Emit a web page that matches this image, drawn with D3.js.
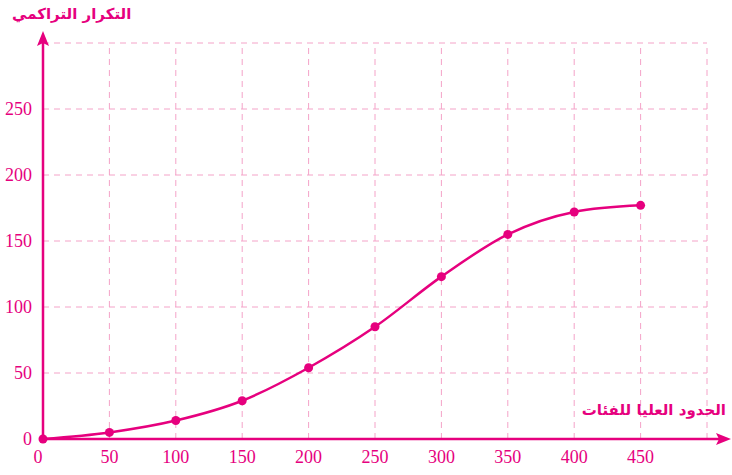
<!DOCTYPE html>
<html><head><meta charset="utf-8">
<script src="https://cdn.jsdelivr.net/npm/d3@7"></script>
<style>body{margin:0;background:#fff}svg{display:block}</style>
</head><body>
<svg id="c" width="732" height="475"></svg>
<script>
const upperBounds = [0, 50, 100, 150, 200, 250, 300, 350, 400, 450];
const cumFreq = [0, 5, 14, 29, 54, 85, 123, 155, 172, 177];
const xTicks = [0, 50, 100, 150, 200, 250, 300, 350, 400, 450];
const yTicks = [0, 50, 100, 150, 200, 250];
const xGrid = [50, 100, 150, 200, 250, 300, 350, 400, 450, 500];
const yGrid = [50, 100, 150, 200, 250, 300];
const yTitle = "التكرار التراكمي";
const xTitle = "الحدود العليا للفئات";

const col = "#e6007e", gridCol = "#f4a3c8";
const svg = d3.select("#c");
const x = d3.scaleLinear().domain([0, 500]).range([43, 707]);
const y = d3.scaleLinear().domain([0, 300]).range([439, 43]);

const g = svg.append("g");
g.selectAll(".vg").data(xGrid).join("line")
  .attr("x1", d => x(d)).attr("x2", d => x(d)).attr("y1", y(0)).attr("y2", y(300))
  .attr("stroke", gridCol).attr("stroke-width", 1).attr("stroke-dasharray", "6,5");
g.selectAll(".hg").data(yGrid).join("line")
  .attr("x1", x(0)).attr("x2", x(500)).attr("y1", d => y(d)).attr("y2", d => y(d))
  .attr("stroke", gridCol).attr("stroke-width", 1).attr("stroke-dasharray", "6,5");

// axes
svg.append("line").attr("x1", x(0)).attr("x2", 722).attr("y1", y(0)).attr("y2", y(0))
  .attr("stroke", col).attr("stroke-width", 2.5);
svg.append("path").attr("d", `M731,${y(0)} L716,${y(0)-6} L719,${y(0)} L716,${y(0)+6} Z`).attr("fill", col);
svg.append("line").attr("x1", x(0)).attr("x2", x(0)).attr("y1", y(0)).attr("y2", 40)
  .attr("stroke", col).attr("stroke-width", 2.5);
svg.append("path").attr("d", `M${x(0)},31 L${x(0)-6},46 L${x(0)},43 L${x(0)+6},46 Z`).attr("fill", col);

const font = "'Liberation Serif', serif";
svg.selectAll(".xt").data(xTicks).join("text")
  .attr("x", d => d === 0 ? x(d) - 5 : x(d)).attr("y", 463).attr("text-anchor", "middle")
  .attr("font-family", font).attr("font-size", 18).attr("fill", col).text(d => d);
svg.selectAll(".yt").data(yTicks).join("text")
  .attr("x", 32).attr("y", d => y(d) + 6).attr("text-anchor", "end")
  .attr("font-family", font).attr("font-size", 18).attr("fill", col).text(d => d);

svg.append("text").attr("x", 12).attr("y", 19).attr("direction", "rtl").attr("text-anchor", "end")
  .attr("font-family", "'DejaVu Sans', sans-serif").attr("font-weight", "bold").attr("font-size", 15)
  .attr("fill", col).text(yTitle);
svg.append("text").attr("x", 726).attr("y", 415).attr("direction", "rtl").attr("text-anchor", "start")
  .attr("font-family", "'DejaVu Sans', sans-serif").attr("font-weight", "bold").attr("font-size", 15)
  .attr("fill", col).text(xTitle);

const pts = upperBounds.map((u, i) => [u, cumFreq[i]]);
const line = d3.line().x(d => x(d[0])).y(d => y(d[1])).curve(d3.curveMonotoneX);
svg.append("path").attr("d", line(pts)).attr("fill", "none").attr("stroke", col).attr("stroke-width", 2.5);
svg.selectAll(".pt").data(pts).join("circle")
  .attr("cx", d => x(d[0])).attr("cy", d => y(d[1])).attr("r", 4.5).attr("fill", col);
</script>
</body></html>
